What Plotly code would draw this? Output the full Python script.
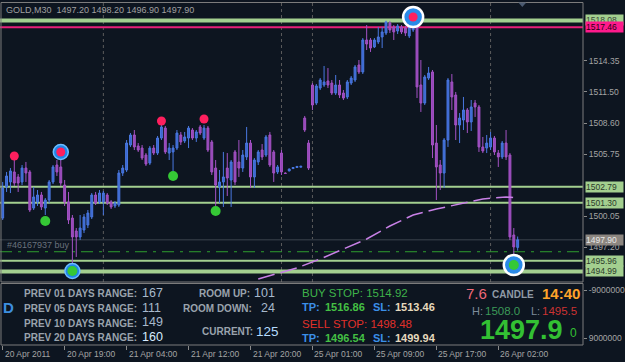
import plotly.graph_objects as go

# ---------------- data ----------------
bars = list(range(134))
opens = [1499.90,1502.76,1503.22,1504.14,1503.68,1503.22,1504.50,1504.14,1500.82,1501.38,
         1502.02,1500.82,1501.56,1503.22,1504.78,1504.60,1502.94,1501.38,1499.90,1498.71,
         1498.16,1498.80,1499.26,1500.00,1502.02,1501.38,1501.38,1502.02,1501.38,1501.01,
         1501.10,1504.04,1504.32,1506.62,1507.54,1506.53,1506.34,1505.70,1504.96,1506.34,
         1505.88,1507.26,1508.18,1505.88,1505.98,1506.34,1507.54,1506.99,1507.26,1508.00,
         1507.26,1508.28,1507.26,1508.18,1506.90,1504.50,1502.76,1503.22,1504.50,1503.40,
         1505.98,1505.06,1504.50,1505.52,1506.80,1503.68,1505.06,1506.16,1505.70,1507.54,
         1505.98,1504.14,1505.88,1504.04,1504.23,1504.45,1504.55,1504.58,1509.10,1506.80,
         1512.14,1510.48,1511.86,1512.14,1512.51,1512.32,1511.40,1512.14,1511.40,1511.04,
         1512.32,1512.60,1513.98,1513.34,1516.28,1516.28,1515.64,1516.10,1516.56,1516.92,
         1517.84,1517.48,1517.11,1517.48,1517.38,1516.65,1517.20,1517.48,1512.14,1510.48,
         1512.78,1513.34,1506.80,1504.78,1504.04,1507.08,1512.42,1511.22,1508.46,1508.92,
         1509.84,1508.74,1510.48,1510.12,1506.44,1506.34,1506.44,1507.26,1505.88,1505.52,
         1506.80,1505.70,1498.34,1497.20]
highs = [1503.22,1504.14,1504.50,1505.24,1503.95,1504.78,1505.06,1504.32,1502.76,1502.48,
         1502.30,1501.74,1503.40,1504.78,1505.24,1506.16,1503.40,1502.30,1500.18,1498.98,
         1500.18,1500.27,1500.64,1502.20,1502.30,1502.48,1502.39,1502.20,1501.56,1501.47,
         1504.32,1504.78,1507.08,1507.72,1508.00,1506.80,1506.62,1505.88,1506.53,1506.62,
         1507.45,1508.46,1508.37,1506.80,1506.62,1508.00,1507.82,1507.82,1508.37,1508.18,
         1508.00,1508.46,1508.46,1508.37,1507.08,1505.24,1504.32,1505.98,1505.88,1505.24,
         1506.16,1507.08,1506.16,1508.28,1507.08,1505.42,1506.16,1506.71,1507.54,1507.82,
         1506.16,1504.78,1506.16,1504.10,1504.45,1504.58,1504.68,1504.70,1509.29,1507.08,
         1512.32,1512.23,1512.78,1513.89,1513.70,1512.60,1513.06,1512.60,1511.68,1512.60,
         1512.97,1513.98,1514.44,1516.46,1517.66,1516.46,1516.46,1517.48,1517.48,1518.05,
         1518.03,1517.66,1517.75,1517.66,1517.57,1517.66,1518.08,1517.66,1514.44,1513.06,
         1513.80,1513.52,1508.46,1505.24,1507.26,1512.78,1513.15,1511.50,1509.56,1511.04,
         1510.02,1510.76,1510.76,1510.30,1507.36,1507.54,1507.82,1507.45,1506.16,1506.99,
         1508.00,1505.88,1498.98,1498.20]
lows = [1499.72,1502.30,1502.20,1502.85,1502.30,1502.94,1503.22,1500.46,1500.64,1501.01,
        1500.64,1500.18,1501.28,1503.03,1503.77,1502.85,1501.01,1499.35,1495.12,1496.32,
        1497.88,1498.52,1498.98,1499.81,1501.10,1501.19,1500.18,1501.10,1500.73,1500.82,
        1500.92,1503.77,1504.14,1506.44,1506.16,1505.98,1505.24,1504.69,1504.78,1505.70,
        1505.70,1507.08,1505.79,1505.24,1504.04,1506.16,1506.62,1506.80,1506.34,1507.08,
        1506.90,1507.54,1507.08,1505.98,1503.86,1500.64,1501.28,1500.92,1501.93,1500.92,
        1502.94,1503.68,1504.14,1505.24,1502.66,1502.66,1504.78,1505.24,1505.52,1504.60,
        1503.22,1503.95,1503.86,1503.98,1504.20,1504.42,1504.52,1504.55,1507.82,1504.32,
        1509.84,1510.30,1511.68,1511.96,1511.86,1511.22,1511.22,1510.94,1510.76,1510.85,
        1512.14,1512.42,1513.15,1513.15,1515.36,1515.18,1515.54,1515.91,1515.54,1516.74,
        1516.92,1516.28,1516.83,1516.83,1516.65,1516.46,1517.02,1510.94,1509.66,1510.30,
        1512.60,1505.42,1501.56,1502.48,1502.66,1506.44,1509.84,1507.08,1506.80,1508.00,
        1507.72,1507.91,1509.20,1505.98,1505.88,1505.88,1506.16,1505.70,1504.60,1505.33,
        1505.24,1497.88,1495.50,1496.90]
closes = [1502.66,1503.77,1504.23,1503.12,1503.12,1504.50,1504.04,1500.64,1501.84,1502.02,
          1500.92,1501.56,1503.22,1504.60,1504.14,1503.12,1501.38,1499.72,1498.16,1498.16,
          1498.98,1500.00,1500.36,1502.02,1501.28,1502.20,1502.20,1501.28,1500.92,1501.28,
          1504.04,1504.50,1506.80,1507.54,1506.44,1506.16,1505.42,1504.87,1506.34,1505.88,
          1507.26,1508.28,1505.98,1506.34,1506.34,1507.72,1506.90,1507.36,1508.18,1507.26,
          1507.82,1507.72,1508.18,1506.16,1504.14,1502.94,1503.22,1503.68,1503.58,1505.06,
          1503.22,1504.50,1505.70,1506.80,1503.68,1505.24,1505.98,1505.52,1507.36,1504.78,
          1504.04,1504.60,1504.14,1504.00,1504.41,1504.55,1504.65,1504.66,1508.00,1504.50,
          1510.30,1512.05,1512.60,1512.42,1512.14,1511.40,1512.14,1511.22,1510.94,1512.42,
          1512.78,1513.80,1513.34,1516.28,1515.91,1515.54,1516.28,1516.56,1517.02,1517.94,
          1517.20,1517.02,1517.57,1517.02,1516.92,1517.48,1517.94,1511.96,1510.48,1512.88,
          1513.24,1506.62,1504.60,1504.04,1507.08,1512.60,1511.04,1508.46,1509.10,1509.84,
          1508.74,1510.12,1510.12,1506.44,1506.07,1506.80,1507.26,1505.98,1505.52,1506.80,
          1505.52,1498.16,1497.24,1497.90]

ma_bars = [66, 76, 82, 88, 94, 100, 106, 112, 118, 124, 130, 133]
ma_values = [1494.29, 1495.31, 1496.13, 1497.05, 1497.97, 1499.17, 1500.18, 1500.73,
             1501.19, 1501.65, 1501.84, 1501.75]

sell_bars = [3, 15, 41, 52, 106]
sell_prices = [1505.61, 1505.98, 1508.83, 1509.01, 1518.40]
buy_bars = [11, 18, 44, 55, 132]
buy_prices = [1499.63, 1495.03, 1503.77, 1500.55, 1495.58]
ring_small_bars = [15, 18]
ring_small_prices = [1505.98, 1495.03]
ring_big_bars = [106, 132]
ring_big_prices = [1518.40, 1495.58]

green_levels = [1518.08, 1502.79, 1501.30, 1495.96, 1494.99]
green_widths = [4, 2, 2, 2, 4]
red_level = 1517.46
bid_price = 1497.90
order_price = 1496.80
separator_bars = [26, 72, 80, 126]

price_ticks = [1514.35, 1511.50, 1508.60, 1505.75, 1500.05, 1497.20]
time_tick_bars = [0, 16, 32, 48, 64, 80, 96, 112, 128]
time_tick_labels = ["20 Apr 2011", "20 Apr 19:00", "21 Apr 04:00", "21 Apr 12:00",
                    "21 Apr 20:00", "25 Apr 01:00", "25 Apr 09:00", "25 Apr 17:00",
                    "26 Apr 02:00"]

# ---------------- layout geometry ----------------
W, H = 625, 362
PW = 586          # plot area width (px)
X0, DX = 2.7, 3.892
def px(x):
    return x / PW
def py(y):
    return 1 - y / H

BG = "#0d1520"
FONT = "Liberation Sans"
GRAY = "#a4a4a4"

fig = go.Figure()

fig.add_trace(go.Candlestick(
    x=bars, open=opens, high=highs, low=lows, close=closes,
    increasing=dict(line=dict(color="#4a78e0", width=1), fillcolor="#3a66d0"),
    decreasing=dict(line=dict(color="#a452c4", width=1), fillcolor="#9448b8"),
    hoverinfo="skip", showlegend=False, xaxis="x", yaxis="y"))

fig.add_trace(go.Scatter(
    x=ma_bars, y=ma_values, mode="lines",
    line=dict(color="#c880e6", width=1.5, dash="17px,6px"),
    hoverinfo="skip", showlegend=False, xaxis="x", yaxis="y"))

fig.add_trace(go.Scatter(
    x=ring_small_bars, y=ring_small_prices, mode="markers",
    marker=dict(size=15, color="#1f86e8", line=dict(color="#6cbcff", width=1.5)),
    hoverinfo="skip", showlegend=False, xaxis="x", yaxis="y"))
fig.add_trace(go.Scatter(
    x=ring_big_bars, y=ring_big_prices, mode="markers",
    marker=dict(size=20, color="#2a8ae8", line=dict(color="#ffffff", width=2.5)),
    hoverinfo="skip", showlegend=False, xaxis="x", yaxis="y"))
fig.add_trace(go.Scatter(
    x=sell_bars, y=sell_prices, mode="markers",
    marker=dict(size=9, color="#ff1f5e", line=dict(width=0)),
    hoverinfo="skip", showlegend=False, xaxis="x", yaxis="y"))
fig.add_trace(go.Scatter(
    x=buy_bars, y=buy_prices, mode="markers",
    marker=dict(size=10, color="#35c835", line=dict(width=0)),
    hoverinfo="skip", showlegend=False, xaxis="x", yaxis="y"))
fig.add_trace(go.Scatter(x=[], y=[], xaxis="x", yaxis="y2", showlegend=False))

shapes = []
# separators
for b in separator_bars:
    shapes.append(dict(type="line", xref="x", yref="paper", x0=b, x1=b,
                       y0=py(282), y1=py(3), line=dict(color="#5c5c5c", width=1, dash="3px,3px"),
                       layer="below"))
# bid line and order line
shapes.append(dict(type="line", xref="paper", yref="y", x0=0, x1=1, y0=bid_price, y1=bid_price,
                   line=dict(color="#2c343e", width=1.5), layer="below"))
shapes.append(dict(type="line", xref="paper", yref="y", x0=0, x1=1, y0=order_price, y1=order_price,
                   line=dict(color="#2e9e2e", width=1, dash="12px,6px,3px,6px"), layer="below"))
for lv, w in zip(green_levels, green_widths):
    shapes.append(dict(type="line", xref="paper", yref="y", x0=0, x1=1, y0=lv, y1=lv,
                       line=dict(color="#a3cf8f", width=w), layer="below"))
shapes.append(dict(type="line", xref="paper", yref="y", x0=0, x1=1, y0=red_level, y1=red_level,
                   line=dict(color="#e8207a", width=2), layer="below"))
# pane borders
shapes.append(dict(type="rect", xref="paper", yref="paper", x0=px(1), x1=px(586), y0=py(282), y1=py(2.5),
                   line=dict(color="#7c7c7c", width=1), layer="above"))
shapes.append(dict(type="rect", xref="paper", yref="paper", x0=px(1), x1=px(586), y0=py(345), y1=py(283.5),
                   line=dict(color="#7c7c7c", width=1), layer="above"))
# chart shift marker
shapes.append(dict(type="path", xref="paper", yref="paper",
                   path=f"M {px(521)},{py(2.5)} L {px(529)},{py(2.5)} L {px(525)},{py(7)} Z",
                   fillcolor="#4a5a70", line=dict(width=0)))

ann = []
def text(t, x, y, size, color, bold=False, family=FONT, height=None):
    if bold:
        t = "<b>" + t + "</b>"
    a = dict(text=t, x=px(x), y=py(y), xref="paper", yref="paper", xanchor="left",
             yanchor="middle", showarrow=False, font=dict(family=family, size=size, color=color))
    if height is not None:
        a["height"] = height
        a["borderpad"] = 0
    ann.append(a)

text("GOLD,M30&nbsp;&nbsp;1497.20 1498.20 1496.90 1497.90", 4, 10, 9, "#a0a0a0")
text("#46167937 buy", 5, 245, 9, "#6a727c")

lab = "#9aa3ad"
text("PREV 01 DAYS RANGE:", 22, 293, 10, lab, True)
text("PREV 05 DAYS RANGE:", 22, 308, 10, lab, True)
text("PREV 10 DAYS RANGE:", 22, 323, 10, lab, True)
text("PREV 20 DAYS RANGE:", 22, 337, 10, lab, True)
text("167", 141, 293, 12.5, "#a7b9cc")
text("111", 141, 308, 12.5, "#a7b9cc")
text("149", 141, 322, 12.5, "#a7b9cc")
text("160", 141, 337, 12.5, "#d6ecff")
text("ROOM UP:", 198, 293, 10, lab, True)
text("101", 253, 293, 12.5, "#a7b9cc")
text("ROOM DOWN:", 182, 308, 10, lab, True)
text("24", 260, 308, 12.5, "#a7b9cc")
text("CURRENT:", 201, 331, 10, lab, True)
text("125", 255, 331, 13.5, "#b5dcff")
text("D", 1, 307, 15, "#3d8fe0", True)

text("BUY STOP: 1514.92", 302, 293, 11.5, "#3fb34a")
text("TP:", 302, 307, 11, "#3b8fe8", True)
text("1516.86", 325, 307, 11, "#44c044", True)
text("SL:", 373, 307, 11, "#3b8fe8", True)
text("1513.46", 395, 307, 11, "#e6d9bd", True)
text("SELL STOP: 1498.48", 302, 324, 11.5, "#e0302a")
text("TP:", 302, 338, 11, "#3b8fe8", True)
text("1496.54", 325, 338, 11, "#44c044", True)
text("SL:", 373, 338, 11, "#3b8fe8", True)
text("1499.94", 395, 338, 11, "#e6d9bd", True)

text("7.6", 466, 293, 15, "#f06a7a")
text("CANDLE", 493, 294, 10, "#8f9aa6", True)
text("14:40", 543, 293, 15, "#ffa42a", True)
text("H:", 473, 310.5, 11, "#7d8c9a", height=11)
text("1508.0", 486, 310.5, 11.5, "#3c9a58", height=11)
text("L:", 533, 310.5, 11, "#7d8c9a", height=11)
text("1495.5", 544, 310.5, 11.5, "#cc3333", height=11)
text("1497.9", 481, 329.5, 27, "#33c033", True, height=21)
text("0", 571, 333, 12, "#33c033")

# time axis labels (left aligned at tick)
for b, t in zip(time_tick_bars, time_tick_labels):
    ann.append(dict(text=t, x=b, y=py(353.5), xref="x", yref="paper", xanchor="left", xshift=0,
                    yanchor="middle", showarrow=False, font=dict(family=FONT, size=8.5, color=GRAY)))

# highlighted price labels
def plabel(p, t, bg, fg):
    ann.append(dict(text=t, x=px(588), y=p, xref="paper", yref="y", xanchor="left", yanchor="middle",
                    showarrow=False, bgcolor=bg, width=37, height=10, align="left", borderpad=0,
                    font=dict(family=FONT, size=8.5, color=fg)))
plabel(1518.08, "1518.08", "#a3cf8f", "#3a4a3a")
plabel(1517.46, "1517.46", "#ff1a8c", "#2a0010")
plabel(1502.79, "1502.79", "#a3cf8f", "#2b3b2b")
plabel(1501.30, "1501.30", "#a3cf8f", "#2b3b2b")
plabel(1497.90, "1497.90", "#8c8680", "#e8e8e8")
plabel(1495.96, "1495.96", "#a3cf8f", "#2b3b2b")
plabel(1494.99, "1494.99", "#a3cf8f", "#2b3b2b")

def pr(y):
    return 1519.96 - 0.092 * y

fig.update_layout(
    width=W, height=H, margin=dict(l=0, r=W - PW, t=0, b=0),
    paper_bgcolor=BG, plot_bgcolor=BG, showlegend=False,
    shapes=shapes, annotations=ann,
    xaxis=dict(domain=[0, 1], anchor="y2", range=[-X0 / DX, (PW - X0) / DX],
               showgrid=False, zeroline=False, showticklabels=False, ticks="outside",
               ticklen=4, tickcolor="#8a8a8a", tickvals=time_tick_bars, rangeslider=dict(visible=False),
               showline=False, fixedrange=True),
    yaxis=dict(domain=[py(283), py(2)], anchor="x", side="right", range=[pr(283), pr(2)],
               showgrid=False, zeroline=False, ticks="outside", ticklen=3, tickcolor="#8a8a8a",
               tickvals=price_ticks, ticktext=[f"{v:.2f}" for v in price_ticks],
               tickfont=dict(family=FONT, size=8.5, color=GRAY), showline=False, fixedrange=True),
    yaxis2=dict(domain=[py(345), py(284)], anchor="x", side="right", range=[11.625e6, -11.25e6],
                showgrid=False, zeroline=False, ticks="outside", ticklen=3, tickcolor="#8a8a8a",
                tickvals=[-9000000, 9000000], ticktext=["-9000000", "9000000"],
                tickfont=dict(family=FONT, size=8.5, color=GRAY), showline=False, fixedrange=True),
)

fig.write_html("out.html")
